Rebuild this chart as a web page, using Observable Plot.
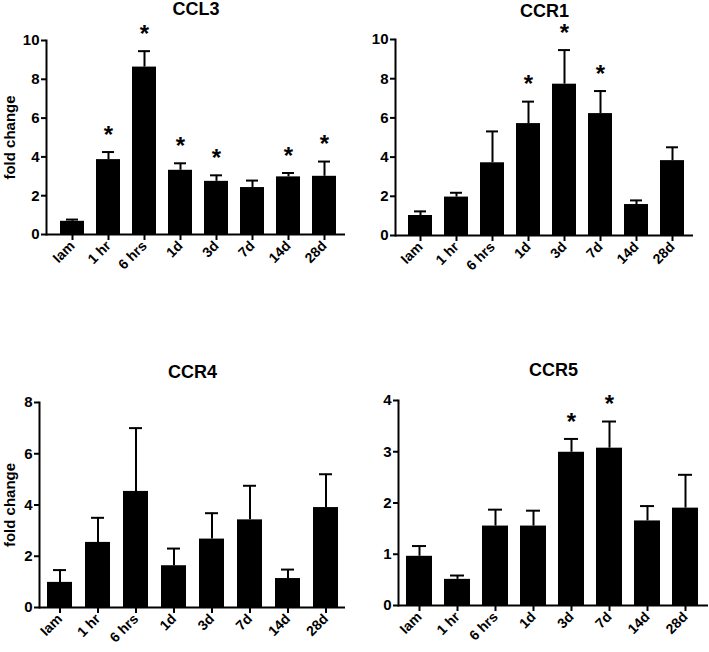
<!DOCTYPE html>
<html>
<head>
<meta charset="utf-8">
<script src="https://cdn.jsdelivr.net/npm/d3@7"></script>
<script src="https://cdn.jsdelivr.net/npm/@observablehq/plot@0.6"></script>
<style>
  body { margin: 0; background: #fff; }
  #chart { position: relative; width: 709px; height: 652px; background: #fff; }
  #chart > div { position: absolute; }
</style>
</head>
<body>
<div id="chart"></div>
<script>
// time points, same for every panel
const categories = ["Iam", "1 hr", "6 hrs", "1d", "3d", "7d", "14d", "28d"];

// bar heights and top of the error bar (mean + SEM)
const ccl3Mean = [0.68, 3.86, 8.63, 3.31, 2.74, 2.42, 2.97, 3.0];
const ccl3Top  = [0.77, 4.25, 9.45, 3.67, 3.05, 2.78, 3.17, 3.76];
const ccl3Star = [false, true, true, true, true, false, true, true];

const ccr1Mean = [1.02, 1.96, 3.71, 5.71, 7.72, 6.22, 1.58, 3.82];
const ccr1Top  = [1.23, 2.18, 5.31, 6.83, 9.46, 7.37, 1.79, 4.5];
const ccr1Star = [false, false, false, true, true, true, false, false];

const ccr4Mean = [0.98, 2.54, 4.53, 1.63, 2.67, 3.42, 1.13, 3.9];
const ccr4Top  = [1.46, 3.5, 7.0, 2.3, 3.68, 4.75, 1.48, 5.2];
const ccr4Star = [false, false, false, false, false, false, false, false];

const ccr5Mean = [0.96, 0.51, 1.55, 1.55, 2.99, 3.07, 1.65, 1.9];
const ccr5Top  = [1.16, 0.585, 1.87, 1.85, 3.25, 3.59, 1.94, 2.55];
const ccr5Star = [false, false, false, false, true, true, false, false];

const yTicks10 = [0, 2, 4, 6, 8, 10];
const yTicks8 = [0, 2, 4, 6, 8];
const yTicks4 = [0, 1, 2, 3, 4];

const FONT = "Liberation Sans, Arial, Helvetica, sans-serif";

function makePanel(title, means, tops, stars, o) {
  var rows = [];
  for (var i = 0; i < categories.length; i++) {
    rows.push({cat: categories[i], mean: means[i], top: tops[i], star: stars[i]});
  }
  var marks = [
    Plot.barY(rows, {x: "cat", y: "mean", fill: "black"}),
    // upper error bar only
    Plot.ruleX(rows, {x: "cat", y1: "mean", y2: "top", stroke: "black", strokeWidth: 2}),
    Plot.tickY(rows, {x: "cat", y: "top", stroke: "black", strokeWidth: 2, insetLeft: 6, insetRight: 6}),
    Plot.text(rows.filter(d => d.star), {x: "cat", y: "top", text: () => "*", dy: -17, fontSize: 24, fontWeight: "bold"}),
    Plot.axisY({ticks: o.ticks, tickFormat: d => String(d), tickSize: 5, strokeWidth: 2, fontSize: 15, fontWeight: "bold", tickPadding: 2, label: null}),
    Plot.axisX({tickSize: 6, strokeWidth: 2, tickRotate: -45, fontSize: 14, fontWeight: "bold", tickPadding: 3, label: null}),
    Plot.ruleY([0], {stroke: "black", strokeWidth: 2}),
    Plot.frame({anchor: "left", stroke: "black", strokeWidth: 2}),
    Plot.text([title], {frameAnchor: "top", lineAnchor: "middle", dy: o.titleDy, fontSize: 18, fontWeight: "bold"})
  ];
  if (o.ylabel) {
    marks.push(Plot.text([o.ylabel], {frameAnchor: "left", textAnchor: "middle", rotate: -90, dx: o.labelDx, fontSize: 15, fontWeight: "bold"}));
  }
  return Plot.plot({
    width: o.width,
    height: o.height,
    marginLeft: o.ml,
    marginRight: o.mr,
    marginTop: o.mt,
    marginBottom: o.mb,
    style: {fontFamily: FONT, background: "white", color: "black"},
    x: {domain: categories, paddingInner: o.inner, paddingOuter: o.outer, align: o.align},
    y: {domain: o.ydomain},
    marks: marks
  });
}

const chart = document.getElementById("chart");
function place(el, left, top) {
  const d = document.createElement("div");
  d.style.left = left + "px";
  d.style.top = top + "px";
  d.appendChild(el);
  chart.appendChild(d);
}

place(makePanel("CCL3", ccl3Mean, ccl3Top, ccl3Star, {
  width: 355, height: 300, ml: 46, mr: 10, mt: 40, mb: 66,
  inner: 0.33, outer: 0.28, align: 0.61, ydomain: [0, 10], ticks: yTicks10,
  titleDy: -31, ylabel: "fold change", labelDx: -36
}), 0, 0);

place(makePanel("CCR1", ccr1Mean, ccr1Top, ccr1Star, {
  width: 354, height: 300, ml: 40, mr: 16, mt: 39, mb: 65,
  inner: 0.33, outer: 0.265, align: 0.6, ydomain: [0, 10], ticks: yTicks10,
  titleDy: -28
}), 355, 0);

place(makePanel("CCR4", ccr4Mean, ccr4Top, ccr4Star, {
  width: 355, height: 312, ml: 39, mr: 10, mt: 62, mb: 45,
  inner: 0.35, outer: 0.15, align: 0.5, ydomain: [0, 8], ticks: yTicks8,
  titleDy: -30, ylabel: "fold change", labelDx: -29
}), 0, 340);

place(makePanel("CCR5", ccr5Mean, ccr5Top, ccr5Star, {
  width: 354, height: 312, ml: 43, mr: 1, mt: 60, mb: 47,
  inner: 0.32, outer: 0.19, align: 0.45, ydomain: [0, 4], ticks: yTicks4,
  titleDy: -30
}), 355, 340);
</script>
</body>
</html>
